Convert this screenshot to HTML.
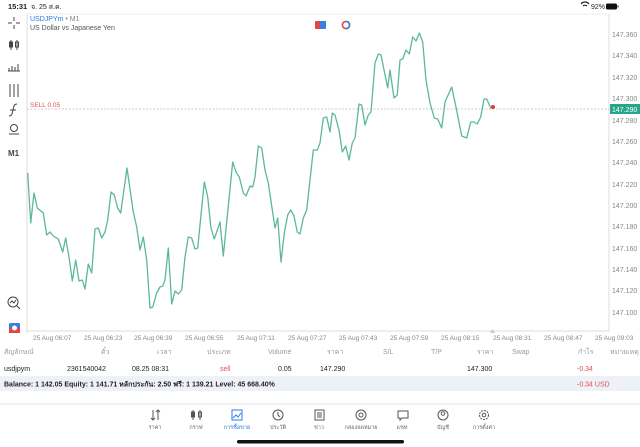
<!DOCTYPE html>
<html><head><meta charset="utf-8"><style>
body{margin:0;width:640px;height:447px;background:#fff;font-family:"Liberation Sans","Noto Sans CJK SC",sans-serif;position:relative;overflow:hidden;color:#222}
.a{position:absolute;white-space:nowrap}
</style></head><body>
<svg class="a" style="left:0;top:0" width="640" height="447" xmlns="http://www.w3.org/2000/svg" font-family="Liberation Sans, sans-serif">
<text x="8" y="9" font-size="7.5" font-weight="bold" fill="#222">15:31</text>
<text x="31" y="9" font-size="7" fill="#222">จ. 25 ส.ค.</text>
<text x="591" y="9" font-size="7" fill="#222">92%</text>
<path d="M581 4 a5 5 0 0 1 8 0 M583 6 a3 3 0 0 1 4 0" stroke="#222" fill="none" stroke-width="1.2"/>
<rect x="606" y="3.5" width="11" height="6" rx="1.5" fill="#111"/><rect x="617.5" y="5.5" width="1" height="2" fill="#111"/>
<line x1="27" y1="14" x2="27" y2="333" stroke="#ddd"/>
<line x1="609" y1="14" x2="609" y2="331" stroke="#ddd"/>
<line x1="27" y1="14" x2="609" y2="14" stroke="#eee"/>
<line x1="27" y1="331" x2="609" y2="331" stroke="#ddd"/>
<text x="30" y="21" font-size="7" fill="#2a7be4">USDJPYm <tspan fill="#888">• M1</tspan></text>
<text x="30" y="30" font-size="7" fill="#555">US Dollar vs Japanese Yen</text>
<rect x="315" y="21" width="11" height="8" rx="1" fill="#e04848"/><rect x="320" y="21" width="6" height="8" fill="#3d7de0"/>
<circle cx="346" cy="25" r="3.6" fill="none" stroke="#e04848" stroke-width="1.6"/><path d="M346 21.4a3.6 3.6 0 0 1 0 7.2" stroke="#3d7de0" stroke-width="1.6" fill="none"/>
<line x1="27" y1="109" x2="609" y2="109" stroke="#bbb" stroke-dasharray="2,1.5" stroke-width="0.8"/>
<text x="30" y="107" font-size="6.5" fill="#e05050">SELL 0.05</text>
<g font-size="7" fill="#888">
<text x="612" y="37">147.360</text><text x="612" y="58">147.340</text><text x="612" y="80">147.320</text><text x="612" y="101">147.300</text><text x="612" y="123">147.280</text><text x="612" y="144">147.260</text><text x="612" y="165">147.240</text><text x="612" y="187">147.220</text><text x="612" y="208">147.200</text><text x="612" y="229">147.180</text><text x="612" y="251">147.160</text><text x="612" y="272">147.140</text><text x="612" y="293">147.120</text><text x="612" y="315">147.100</text>
</g>
<rect x="610" y="104" width="30" height="10" fill="#27a58a"/>
<text x="612" y="112" font-size="7" fill="#fff">147.290</text>
<g font-size="6.5" fill="#888">
<text x="33" y="340">25 Aug 06:07</text><text x="84" y="340">25 Aug 06:23</text><text x="134" y="340">25 Aug 06:39</text><text x="185" y="340">25 Aug 06:55</text><text x="237" y="340">25 Aug 07:11</text><text x="288" y="340">25 Aug 07:27</text><text x="339" y="340">25 Aug 07:43</text><text x="390" y="340">25 Aug 07:59</text><text x="441" y="340">25 Aug 08:15</text><text x="493" y="340">25 Aug 08:31</text><text x="544" y="340">25 Aug 08:47</text><text x="595" y="340">25 Aug 09:03</text>
</g>
<path d="M490 333 l2.5 -4 l2.5 4z" fill="#ccc"/>
<polyline fill="none" stroke="#5cb995" stroke-width="1.3" stroke-linejoin="round" points="27.7,173 30.7,223 34,193 37.3,208 43.3,213 46.7,235 50,232 53.3,236 58.3,239 62.7,252 65.7,238 69,257 72.3,281 75.7,260 79,281 82.3,280 85,289 88.3,264 91.7,273 95,229 98.3,228 101.7,238 105,232 107.7,220 111,192 114.3,195 117.7,208 120.7,213 127,168 133.3,212 136.7,227 140,250 143.3,237 146.7,260 150,308 152.7,307 156.7,293 160,287 162.7,286 165,280 168.3,248 171.7,304 175,291 178.3,294 181.7,290 185,257 188.3,237 191.7,238 195,249 197.7,248 204.3,182 207.7,197 211,228 214.3,239 220,222 223.3,256 232.7,162 236,172 239.3,177 243.3,193 246,196 250,186 252.7,187 255,177 258.3,146 261.7,148 265,170 268.3,183 275,228 277.7,218 281,262 284.3,233 287.7,215 290.7,210 294,216 297.3,232 300,234 303.3,218 306.7,210 313.3,150 317.3,150 320,143 323.3,118 326.7,117 330,132 332.3,113 335,115 339,130 342.3,152 345.7,146 349,160 352.3,143 355,138 359,104 361.7,105 365,125 368.3,115 371,112 375,63 378.3,54 381,55 387.7,88 390,70 394,98 397.3,95 400,60 402.7,59 406,50 409.3,54 412.7,37 416,41 419.3,33 422.7,42 426,80 430,103 434.3,118 437.7,119 441.7,128 445,102 451.7,87 456,107 461.7,136 466.7,138 470.7,122 474,122 477.3,124 480.7,117 484,99 486.7,99 490.7,108 493,107"/>
<circle cx="493" cy="107" r="2" fill="#e53935"/>
<g stroke="#444" fill="none" stroke-width="1">
<path d="M14 17v4M14 25v4M8 23h4M16 23h4"/>
<path d="M11 40v10M17 40v10"/><rect x="9.5" y="42" width="3" height="5" fill="#444"/><rect x="15.5" y="42" width="3" height="5"/>
<path d="M8 71h12M9 71v-3M12 71v-5M15 71v-4M18 71v-7"/>
<path d="M10 84v13M14 84v13M18 84v13"/>
<path d="M17 104c-3 0 -3 2 -4 6s-1 6 -4 6M10 110h6"/>
<circle cx="14" cy="128" r="3.5"/><path d="M9 134h10"/>
<circle cx="13" cy="302" r="5"/><path d="M17 306l3 3M10 303l2-2 2 2 2-3"/>
</g>
<text x="8" y="156" font-size="8" font-weight="bold" fill="#444">M1</text>
<rect x="9" y="323" width="11" height="10" rx="1.5" fill="#3d7de0"/><rect x="9" y="328" width="11" height="5" fill="#e04848"/><circle cx="14.5" cy="328" r="2.5" fill="#fff"/>
<g font-size="7" fill="#999">
<text x="4" y="354">สัญลักษณ์</text><text x="101" y="354">ตั๋ว</text><text x="157" y="354">เวลา</text><text x="207" y="354">ประเภท</text><text x="268" y="354">Volume</text><text x="327" y="354">ราคา</text><text x="383" y="354">S/L</text><text x="431" y="354">T/P</text><text x="477" y="354">ราคา</text><text x="512" y="354">Swap</text><text x="578" y="354">กำไร</text><text x="610" y="354">หมายเหตุ</text>
</g>
<g font-size="7" fill="#222">
<text x="4" y="371">usdjpym</text><text x="67" y="371">2361540042</text><text x="132" y="371">08.25 08:31</text><text x="220" y="371" fill="#e05050">sell</text><text x="278" y="371">0.05</text><text x="320" y="371">147.290</text><text x="467" y="371">147.300</text><text x="577" y="371" fill="#e05050">-0.34</text>
</g>
<rect x="0" y="376" width="640" height="15" fill="#eef2f8"/>
<text x="4" y="386.5" font-size="7" font-weight="bold" fill="#222">Balance: 1 142.05 Equity: 1 141.71 หลักประกัน: 2.50 ฟรี: 1 139.21 Level: 45 668.40%</text>
<text x="577" y="386.5" font-size="7" fill="#e05050">-0.34  USD</text>
<line x1="0" y1="404" x2="640" y2="404" stroke="#e4e4e4"/>
<g stroke="#555" fill="none" stroke-width="1">
<path d="M153 410v10M151 418l2 2 2-2M158 420v-10M156 412l2-2 2 2"/>
<path d="M193 410v10M200 410v10"/><rect x="191.5" y="412" width="3" height="5" fill="#555"/><rect x="198.5" y="412" width="3" height="5"/>
<circle cx="278" cy="415" r="5"/><path d="M278 412v3l2 2"/>
<rect x="315" y="410" width="9" height="10"/><path d="M317 413h5M317 415h5M317 417h5"/>
<circle cx="361" cy="415" r="5"/><circle cx="361" cy="415" r="2"/>
<path d="M398 411h10v7h-6l-2 2v-2h-2z"/>
<circle cx="443" cy="415" r="5"/><circle cx="443" cy="413.5" r="1.8"/>
<circle cx="484" cy="415" r="4.5" stroke-dasharray="2,1"/><circle cx="484" cy="415" r="1.8"/>
</g>
<rect x="232" y="410" width="10" height="10" fill="none" stroke="#2a7be4"/><path d="M233 418l3-3 2 2 3-4" stroke="#2a7be4" fill="none"/>
<g font-size="5.5" fill="#666" text-anchor="middle">
<text x="155" y="429">ราคา</text><text x="196" y="429">กราฟ</text><text x="237" y="429" fill="#2a7be4">การซื้อขาย</text><text x="278" y="429">ประวัติ</text><text x="319" y="429">ข่าว</text><text x="361" y="429">กล่องจดหมาย</text><text x="402" y="429">แชท</text><text x="443" y="429">บัญชี</text><text x="484" y="429">การตั้งค่า</text>
</g>
<rect x="237" y="440" width="167" height="3.5" rx="1.7" fill="#111"/>
</svg>
</body></html>
